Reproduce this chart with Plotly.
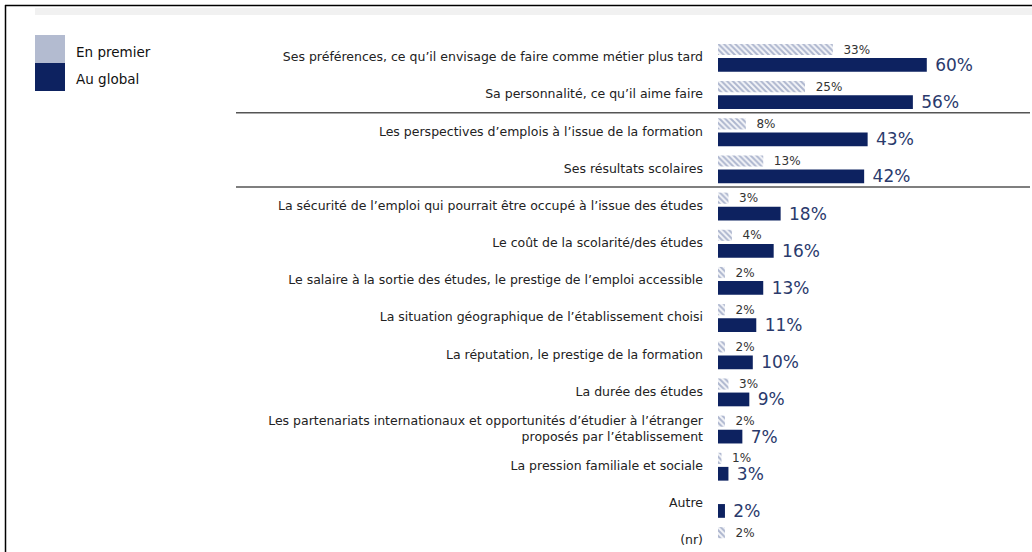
import plotly.graph_objects as go

categories = [
    "Ses préférences, ce qu’il envisage de faire comme métier plus tard",
    "Sa personnalité, ce qu’il aime faire",
    "Les perspectives d’emplois à l’issue de la formation",
    "Ses résultats scolaires",
    "La sécurité de l’emploi qui pourrait être occupé à l’issue des études",
    "Le coût de la scolarité/des études",
    "Le salaire à la sortie des études, le prestige de l’emploi accessible",
    "La situation géographique de l’établissement choisi",
    "La réputation, le prestige de la formation",
    "La durée des études",
    "Les partenariats internationaux et opportunités d’étudier à l’étranger<br>proposés par l’établissement",
    "La pression familiale et sociale",
    "Autre",
    "(nr)",
]
en_premier = [33, 25, 8, 13, 3, 4, 2, 2, 2, 3, 2, 1, None, 2]
au_global = [60, 56, 43, 42, 18, 16, 13, 11, 10, 9, 7, 3, 2, None]

NAVY = '#0d2260'
W, H = 1032, 552
L, R, T, B = 718, 10, 38, 0
PW, PH = W - L - R, H - T - B


def px(x):
    return (x - L) / PW


def py(y):
    return 1 - (y - T) / PH


fig = go.Figure()

fig.add_trace(
    go.Bar(
        y=categories,
        x=en_premier,
        orientation='h',
        name='En premier',
        width=0.30,
        offset=-0.35,
        marker=dict(
            color='white',
            line=dict(width=0),
            pattern=dict(shape='\\', fgcolor='#6677a3', bgcolor='#f4f5f9', size=4, solidity=0.5),
        ),
        text=[f"  {v}%" if v is not None else "" for v in en_premier],
        textposition='outside',
        textfont=dict(family='DejaVu Sans', size=12, color='#333333'),
        constraintext='none',
        cliponaxis=False,
        showlegend=False,
    )
)

fig.add_trace(
    go.Bar(
        y=categories,
        x=au_global,
        orientation='h',
        name='Au global',
        width=0.37,
        offset=0.03,
        marker=dict(color=NAVY, line=dict(width=0)),
        text=[f" {v}%" if v is not None else "" for v in au_global],
        textposition='outside',
        textfont=dict(family='DejaVu Sans', size=17, color='#2a3a6c'),
        constraintext='none',
        cliponaxis=False,
        showlegend=False,
    )
)

shapes = [
    # frame top / left
    dict(type='line', xref='paper', yref='paper', x0=px(5), x1=px(1032), y0=py(5.5), y1=py(5.5),
         line=dict(color='black', width=1.5)),
    dict(type='line', xref='paper', yref='paper', x0=px(5.5), x1=px(5.5), y0=py(5), y1=py(552),
         line=dict(color='black', width=1.5)),
    dict(type='rect', xref='paper', yref='paper', x0=px(35), x1=px(1032), y0=py(8), y1=py(15),
         fillcolor='#f1f1f1', line=dict(width=0), layer='below'),
    # legend swatches
    dict(type='rect', xref='paper', yref='paper', x0=px(35), x1=px(65), y0=py(35), y1=py(63),
         fillcolor='#b3bbd0', line=dict(width=0)),
    dict(type='rect', xref='paper', yref='paper', x0=px(35), x1=px(65), y0=py(63), y1=py(91),
         fillcolor=NAVY, line=dict(width=0)),
]
# group separators
for yv in [1.5, 3.5]:
    shapes.append(dict(type='line', xref='paper', yref='y', x0=px(236), x1=px(1030), y0=yv, y1=yv,
                       line=dict(color='#555555', width=1.5)))

annotations = [
    dict(text='En premier', xref='paper', yref='paper', x=px(74), y=py(52), xanchor='left',
         yanchor='middle', showarrow=False, font=dict(family='DejaVu Sans', size=13.5, color='#111111')),
    dict(text='Au global', xref='paper', yref='paper', x=px(74), y=py(79), xanchor='left',
         yanchor='middle', showarrow=False, font=dict(family='DejaVu Sans', size=13.5, color='#111111')),
]

fig.update_layout(
    width=W,
    height=H,
    margin=dict(l=L, r=R, t=T, b=B),
    paper_bgcolor='white',
    plot_bgcolor='white',
    barmode='overlay',
    shapes=shapes,
    annotations=annotations,
    xaxis=dict(range=[0, PW / 3.48], visible=False, fixedrange=True),
    yaxis=dict(
        range=[13.32, -0.51],
        showgrid=False,
        zeroline=False,
        showline=False,
        ticks='',
        ticklabelstandoff=14,
        automargin=False,
        tickfont=dict(family='DejaVu Sans', size=12.5, color='#222222'),
    ),
)

# the page's default body margin would shift the figure by 8px
fig.write_html(
    "out.html",
    config={'displayModeBar': False},
    post_script="document.body.style.margin='0px';",
)
